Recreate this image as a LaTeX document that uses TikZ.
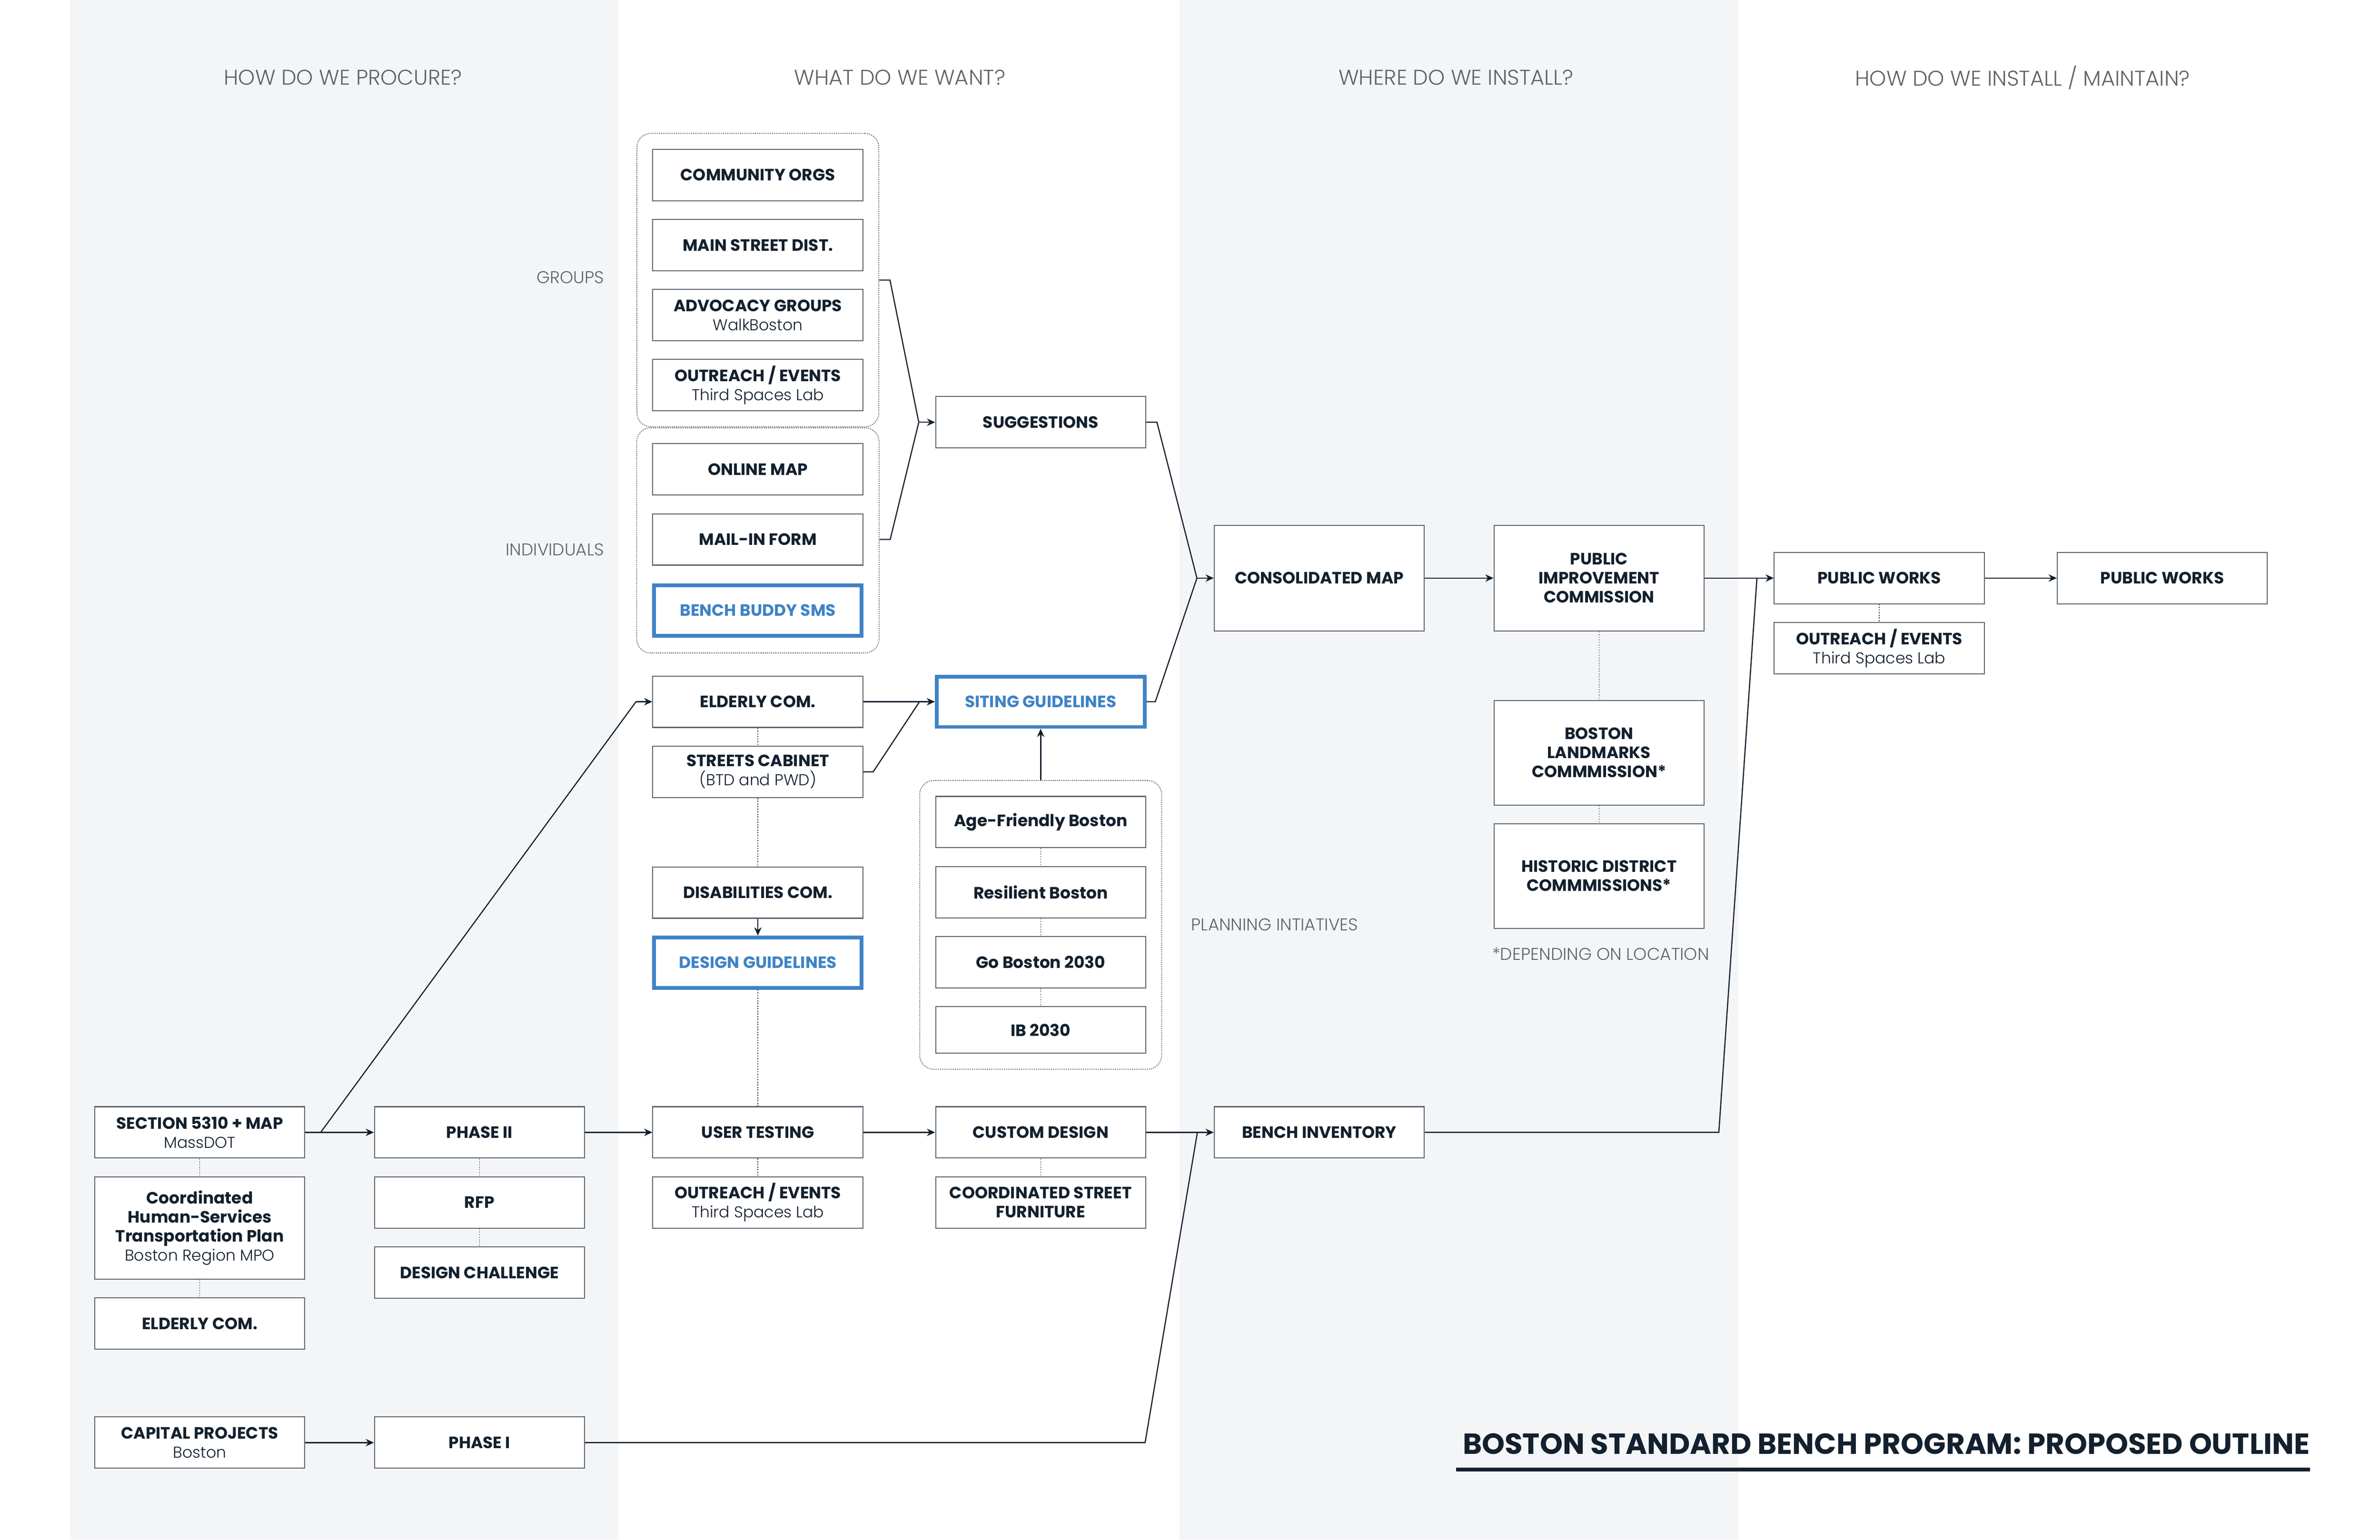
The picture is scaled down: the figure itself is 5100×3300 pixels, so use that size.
\documentclass[tikz,border=0pt]{standalone}
\usepackage{fontspec}
\setmainfont{Poppins}
\IfFontExistsTF{Poppins Light}{\newfontfamily\lightfont{Poppins Light}}{\newfontfamily\lightfont{Poppins}}
\usetikzlibrary{positioning, fit, backgrounds, arrows.meta, calc}

\definecolor{navy}{HTML}{13202E}
\definecolor{boxline}{HTML}{5B646E}
\definecolor{hiblue}{HTML}{3F83C6}
\definecolor{colgrey}{HTML}{F4F5F7}
\definecolor{labelgrey}{HTML}{5F6368}
\newcommand{\sublbl}[1]{{\mdseries\lightfont\fontsize{9.6}{11.6}\selectfont #1}}

\begin{document}
\begin{tikzpicture}[x=0.01cm, y=-0.01cm, node distance=0.38cm and 1.47cm,
	b/.style={draw=boxline, line width=0.6pt, fill=white, minimum width=4.5cm, minimum height=1.1cm, inner sep=0pt, align=center, text=navy, font=\fontsize{10}{11.6}\selectfont\bfseries},
	hi/.style={draw=hiblue, line width=2.3pt, text=hiblue, minimum width=4.45cm, minimum height=1.08cm},
	frame/.style={draw=navy!75, line width=0.5pt, dash pattern=on 0.6pt off 0.7pt, rounded corners=0.3cm, fill=white, inner sep=0.33cm},
	hdr/.style={text=labelgrey, font=\fontsize{13}{15}\selectfont\lightfont},
	side/.style={text=labelgrey, inner sep=0pt, font=\fontsize{10.4}{12}\selectfont\lightfont},
	ttl/.style={text=navy, inner sep=0pt, font=\fontsize{17.7}{20}\selectfont\bfseries},
	ln/.style={draw=navy, line width=0.7pt},
	arr/.style={ln, -{Stealth[length=5pt, width=4.5pt]}},
	dot/.style={draw=navy!80, line width=0.4pt, dash pattern=on 0.8pt off 0.8pt}]
	\useasboundingbox (0,0) rectangle (5100,3300);

	% how do we procure
	\node [b] (sec) at (428,2427) {SECTION 5310 + MAP\\\sublbl{MassDOT}};
	\node [b, minimum height=2.19cm, below=of sec] (chs) {Coordinated\\Human-Services\\Transportation Plan\\\sublbl{Boston Region MPO}};
	\node [b, below=of chs] (eld1) {ELDERLY COM.};
	\node [b] (cap) at (428,3092) {CAPITAL PROJECTS\\\sublbl{Boston}};
	\node [b, right=of sec] (ph2) {PHASE II};
	\node [b, below=of ph2] (rfp) {RFP};
	\node [b, below=of rfp] (dch) {DESIGN CHALLENGE};
	\node [b, right=of cap] (ph1) {PHASE I};

	% what do we want
	\node [b] (co) at (1624,375) {COMMUNITY ORGS};
	\node [b, below=of co] (msd) {MAIN STREET DIST.};
	\node [b, below=of msd] (adv) {ADVOCACY GROUPS\\\sublbl{WalkBoston}};
	\node [b, below=of adv] (oe1) {OUTREACH / EVENTS\\\sublbl{Third Spaces Lab}};
	\node [b] (om) at (1624,1006) {ONLINE MAP};
	\node [b, below=of om] (mif) {MAIL-IN FORM};
	\node [b, hi, below=of mif] (bbs) {BENCH BUDDY SMS};
	\node [b] (eld2) at (1624,1504) {ELDERLY COM.};
	\node [b, below=of eld2] (stc) {STREETS CABINET\\\sublbl{(BTD and PWD)}};
	\node [b] (dis) at (1624,1913) {DISABILITIES COM.};
	\node [b, hi, below=0.36cm of dis] (dg) {DESIGN GUIDELINES};
	\node [b] (ut) at (1624,2427) {USER TESTING};
	\node [b, below=of ut] (oe2) {OUTREACH / EVENTS\\\sublbl{Third Spaces Lab}};

	\node [b] (sug) at (2230,905) {SUGGESTIONS};
	\node [b, hi] (sit) at (2230,1504) {SITING GUIDELINES};
	\node [b] (afb) at (2230,1762) {Age-Friendly Boston};
	\node [b, below=of afb] (rsb) {Resilient Boston};
	\node [b, below=of rsb] (gob) {Go Boston 2030};
	\node [b, minimum height=1cm, below=of gob] (ib) {IB 2030};
	\node [b] (cud) at (2230,2427) {CUSTOM DESIGN};
	\node [b, below=of cud] (csf) {COORDINATED STREET\\FURNITURE};

	% where do we install
	\node [b, minimum height=2.26cm] (cmap) at (2827,1239) {CONSOLIDATED MAP};
	\node [b, minimum height=2.26cm, right=of cmap] (pic) {PUBLIC\\IMPROVEMENT\\COMMISSION};
	\node [b, minimum height=2.24cm, below=1.47cm of pic] (blc) {BOSTON\\LANDMARKS\\COMMMISSION*};
	\node [b, minimum height=2.24cm, below=of blc] (hdc) {HISTORIC DISTRICT\\COMMMISSIONS*};
	\node [b] (binv) at (2827,2427) {BENCH INVENTORY};

	% how do we install / maintain
	\node [b] (pw1) at (4027,1239) {PUBLIC WORKS};
	\node [b, below=of pw1] (oe3) {OUTREACH / EVENTS\\\sublbl{Third Spaces Lab}};
	\node [b, right=1.54cm of pw1] (pw2) {PUBLIC WORKS};

	\node [hdr] (h1) at (735,166) {HOW DO WE PROCURE?};
	\node [hdr] (h2) at (1928,166) {WHAT DO WE WANT?};
	\node [hdr] (h3) at (3120,166) {WHERE DO WE INSTALL?};
	\node [hdr] (h4) at (4334,166) {HOW DO WE INSTALL / MAINTAIN?};
	\node [side, anchor=east] (lgrp) at (1295,595) {GROUPS};
	\node [side, anchor=east] (lind) at (1295,1178) {INDIVIDUALS};
	\node [side, anchor=west] (lpln) at (2552,1982) {PLANNING INTIATIVES};
	\node [side, anchor=west] (ldep) at (3197,2045) {*DEPENDING ON LOCATION};
	\node [ttl, anchor=base west] (title) at (3134,3117) {BOSTON STANDARD BENCH PROGRAM: PROPOSED OUTLINE};
	\draw [navy, line width=0.08cm] ($(title.base west)+(-14,33)$) -- ($(title.base east)+(0,33)$);

	\begin{scope}[on background layer]
		\fill [colgrey] (150,0) rectangle (1325,3300);
		\fill [colgrey] (2528,0) rectangle (3725,3300);
		\node [frame, fit=(co)(oe1)] (grp) {};
		\node [frame, fit=(om)(bbs)] (ind) {};
		\node [frame, fit=(afb)(ib)] (pln) {};
	\end{scope}

	\coordinate [left=0.35cm of sug.west] (jsug);
	\coordinate [left=0.36cm of cmap.west] (jcm);
	\coordinate [left=0.33cm of sit.west] (jsit);
	\coordinate [left=0.35cm of eld2.west] (jeld);
	\coordinate [left=0.35cm of binv.west] (jbi);
	\coordinate [left=0.36cm of pw1.west] (jpw);

	\draw [ln] (grp.east) -- ++(23,0) -- (jsug);
	\draw [ln] (mif.east -| ind.east) -- ++(23,0) -- (jsug);
	\draw [arr] (jsug) -- (sug.west);
	\draw [ln] (sug.east) -- ++(23,0) -- (jcm);
	\draw [ln] (sit.east) -- ++(19,0) -- (jcm);
	\draw [arr] (jcm) -- (cmap.west);
	\draw [ln] (stc.east) -- ++(21,0) -- (jsit);
	\draw [ln] ($(sec.east)+(33,0)$) -- (jeld);
	\draw [arr] (jeld) -- (eld2.west);
	\draw [ln] (ph1.east) -- ($(jbi |- ph1.east)+(-112,0)$) -- (jbi);
	\draw [ln] (binv.east) -- ++(630,0) -- (jpw);

	\path [arr] (eld2) edge (sit);
	\path [arr] (pln) edge (sit);
	\path [arr] (dis) edge (dg);
	\path [arr] (sec) edge (ph2);
	\path [arr] (ph2) edge (ut);
	\path [arr] (ut) edge (cud);
	\path [arr] (cud) edge (binv);
	\path [arr] (cap) edge (ph1);
	\path [arr] (cmap) edge (pic);
	\path [arr] (pic) edge (pw1);
	\path [arr] (pw1) edge (pw2);

	\path [dot] (sec) edge (chs) (chs) edge (eld1);
	\path [dot] (ph2) edge (rfp) (rfp) edge (dch);
	\path [dot] (eld2) edge (stc) (stc) edge (dis);
	\path [dot] (dg) edge (ut) (ut) edge (oe2);
	\path [dot] (afb) edge (rsb) (rsb) edge (gob) (gob) edge (ib);
	\path [dot] (cud) edge (csf);
	\path [dot] (pic) edge (blc) (blc) edge (hdc);
	\path [dot] (pw1) edge (oe3);
\end{tikzpicture}
\end{document}
